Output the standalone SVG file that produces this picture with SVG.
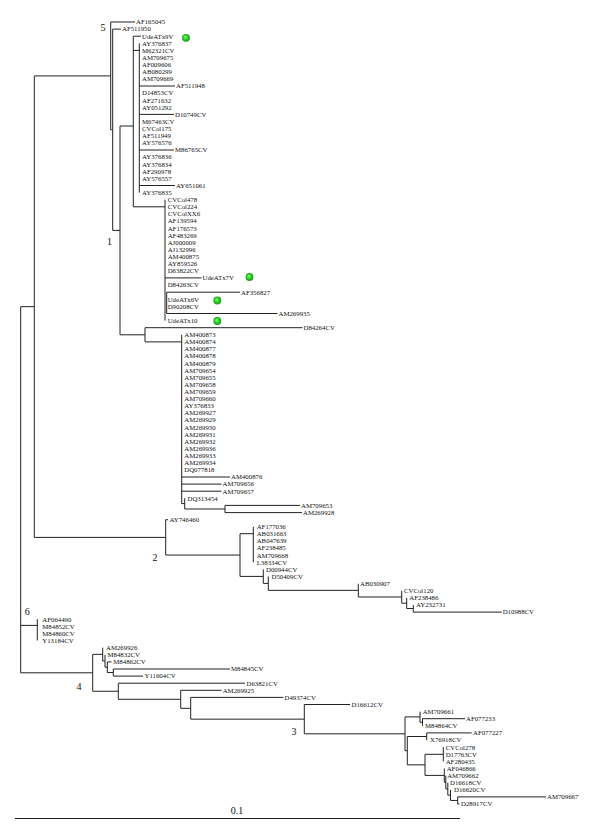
<svg xmlns="http://www.w3.org/2000/svg" width="600" height="839" viewBox="0 0 600 839">
<style>
.t{font-family:"Liberation Serif","Times New Roman",serif;font-size:6.8px;fill:#111}
.c{font-family:"Liberation Serif","Times New Roman",serif;font-size:10px;fill:#111;text-anchor:middle}
.ln{fill:none;stroke:#222;stroke-width:1}
.dot{fill:url(#gd)}
</style>
<defs>
<radialGradient id="gd" cx="0.5" cy="0.5" r="0.5" fx="0.38" fy="0.35">
<stop offset="0" stop-color="#a8ff8a"/>
<stop offset="0.45" stop-color="#33dd2e"/>
<stop offset="1" stop-color="#149a14"/>
</radialGradient>
</defs>
<rect width="600" height="839" fill="#fff"/>
<g id="connectors" class="ln">
<path d="M20.7,306.65V672.8M20.7,306.65H34.3M20.7,625.4H37.3M20.7,672.8H92.7"/>
<path d="M34.3,75.9V537.4M34.3,75.9H110.7M34.3,537.4H165.7"/>
<path d="M110.7,22V129.75M110.7,22H135M110.7,129.75H112.7"/>
<path d="M112.7,29.1V230.4M112.7,29.1H121M112.7,230.4H120"/>
<path d="M120,126V334.8M120,126H133.3M120,334.8H145"/>
<path d="M133.3,36.2V206.8M133.3,36.2H141M133.3,50.4H139.3M133.3,206.8H165"/>
<path d="M139.3,43.3V192.6M139.3,86H175M139.3,114.4H174M139.3,150H174M139.3,185.5H175"/>
<path d="M165,199.7V320.6M165,277.9H201.5M166.7,292.2V313.5M166.7,292.2H240M166.7,313.5H277.5"/>
<path d="M145,327.7V341.9M145,327.7H302.5M145,341.9H181.7"/>
<path d="M181.7,334.8V503.6M181.7,477H230M181.7,484.1H221.5M181.7,491.2H221.5M181.7,503.6H184.7"/>
<path d="M184.7,498.3V509M184.7,509H225"/>
<path d="M225,505.4V512.6M225,505.4H300M225,512.6H302"/>
<path d="M165.7,519.7V555.05M165.7,519.7H168M165.7,555.05H240"/>
<path d="M240,533.7V576.4M240,533.7H253.3M240,576.4H263.3"/>
<path d="M253.3,526.8V562.3"/>
<path d="M263.3,569.4V583.4M263.3,583.4H268.3"/>
<path d="M268.3,576.5V590.35M268.3,590.35H358.3"/>
<path d="M358.3,583.7V597M358.3,597H401.7"/>
<path d="M401.7,590.8V603.2M401.7,603.2H406.7"/>
<path d="M406.7,597.9V608.55M406.7,608.55H413.3"/>
<path d="M413.3,605V612.1M413.3,612.1H501.7"/>
<path d="M37.3,619.2V640.5"/>
<path d="M92.7,654.35V691.25M92.7,654.35H102.7M92.7,691.25H118.3"/>
<path d="M102.7,647.7V661M102.7,661H105"/>
<path d="M105,654.8V667.2M105,667.2H107.3"/>
<path d="M107.3,661.9V672.55M107.3,661.9H111.5M107.3,672.55H113.3"/>
<path d="M113.3,669V676.1M113.3,669H230M113.3,676.1H143"/>
<path d="M118.3,683.2V699.3M118.3,683.2H245M118.3,699.3H180.7"/>
<path d="M180.7,690.3V708.3M180.7,690.3H221.7M180.7,708.3H190.7"/>
<path d="M190.7,697.4V719.15M190.7,697.4H283.3M190.7,719.15H304.3"/>
<path d="M304.3,704.5V733.8M304.3,704.5H350M304.3,733.8H405"/>
<path d="M405,716.9V750.7M405,716.9H420M405,750.7H407.3"/>
<path d="M420,711.6V722.25M420,722.25H422.5"/>
<path d="M422.5,718.7V725.8M422.5,718.7H465"/>
<path d="M407.3,736.5V764.85M407.3,736.5H426.7M407.3,764.85H425"/>
<path d="M426.7,732.9V740.1M426.7,732.9H471.7"/>
<path d="M425,754.3V775.4M425,754.3H443.3M425,775.4H444.3"/>
<path d="M443.3,747.2V761.4"/>
<path d="M444.3,768.5V782.25M444.3,782.25H445.8"/>
<path d="M445.8,775.6V788.9M445.8,788.9H447.8"/>
<path d="M447.8,782.7V795.1M447.8,795.1H450.5"/>
<path d="M450.5,789.8V800.45M450.5,800.45H457.7"/>
<path d="M457.7,796.9V804M457.7,796.9H546M457.7,804H459.5"/>
<path id="scalebar" d="M15,818.5H460"/>
</g>
<g id="clade-labels">
<text class="c" x="103" y="31">5</text>
<text class="c" x="109.5" y="244.5">1</text>
<text class="c" x="155" y="561">2</text>
<text class="c" x="294" y="734.5">3</text>
<text class="c" x="79" y="690">4</text>
<text class="c" x="27.3" y="615">6</text>
<text class="c" x="237" y="813.5">0.1</text>
</g>
<g id="taxa">
<g id="n1"><text class="t" x="136" y="24.3">AF165045</text></g>
<g id="n2"><text class="t" x="122" y="31.4">AF511950</text></g>
<g id="n3"><text class="t" x="142" y="38.5">UdeATx9V</text><circle class="dot" cx="186" cy="37.8" r="3.9"/></g>
<g id="n4"><text class="t" x="142" y="45.6">AY376837</text></g>
<g id="n5"><text class="t" x="142" y="52.7">M62321CV</text></g>
<g id="n6"><text class="t" x="142" y="59.8">AM709675</text></g>
<g id="n7"><text class="t" x="142" y="67">AF009606</text></g>
<g id="n8"><text class="t" x="142" y="74.1">AB080299</text></g>
<g id="n9"><text class="t" x="142" y="81.2">AM709669</text></g>
<g id="n10"><text class="t" x="176" y="88.3">AF511948</text></g>
<g id="n11"><text class="t" x="142" y="95.4">D14853CV</text></g>
<g id="n12"><text class="t" x="142" y="102.5">AF271632</text></g>
<g id="n13"><text class="t" x="142" y="109.6">AY051292</text></g>
<g id="n14"><text class="t" x="175" y="116.7">D10749CV</text></g>
<g id="n15"><text class="t" x="142" y="123.8">M67463CV</text></g>
<g id="n16"><text class="t" x="142" y="130.9">CVCol175</text></g>
<g id="n17"><text class="t" x="142" y="138">AF511949</text></g>
<g id="n18"><text class="t" x="142" y="145.2">AY576576</text></g>
<g id="n19"><text class="t" x="175" y="152.3">M86765CV</text></g>
<g id="n20"><text class="t" x="142" y="159.4">AY376836</text></g>
<g id="n21"><text class="t" x="142" y="166.5">AY376834</text></g>
<g id="n22"><text class="t" x="142" y="173.6">AF290978</text></g>
<g id="n23"><text class="t" x="142" y="180.7">AY576557</text></g>
<g id="n24"><text class="t" x="176" y="187.8">AY651061</text></g>
<g id="n25"><text class="t" x="142" y="194.9">AY376835</text></g>
<g id="n26"><text class="t" x="167.7" y="202">CVCol478</text></g>
<g id="n27"><text class="t" x="167.7" y="209.1">CVCol224</text></g>
<g id="n28"><text class="t" x="167.7" y="216.2">CVColXX6</text></g>
<g id="n29"><text class="t" x="167.7" y="223.4">AF139594</text></g>
<g id="n30"><text class="t" x="167.7" y="230.5">AF176573</text></g>
<g id="n31"><text class="t" x="167.7" y="237.6">AF483269</text></g>
<g id="n32"><text class="t" x="167.7" y="244.7">AJ000009</text></g>
<g id="n33"><text class="t" x="167.7" y="251.8">AJ132996</text></g>
<g id="n34"><text class="t" x="167.7" y="258.9">AM400875</text></g>
<g id="n35"><text class="t" x="167.7" y="266">AY859526</text></g>
<g id="n36"><text class="t" x="167.7" y="273.1">D63822CV</text></g>
<g id="n37"><text class="t" x="202.5" y="280.2">UdeATx7V</text><circle class="dot" cx="249.5" cy="277" r="3.9"/></g>
<g id="n38"><text class="t" x="167.7" y="287.3">D84263CV</text></g>
<g id="n39"><text class="t" x="241" y="294.5">AF356827</text></g>
<g id="n40"><text class="t" x="167.7" y="301.6">UdeATx6V</text><circle class="dot" cx="217.3" cy="300.5" r="3.9"/></g>
<g id="n41"><text class="t" x="167.7" y="308.7">D90208CV</text></g>
<g id="n42"><text class="t" x="278.5" y="315.8">AM269935</text></g>
<g id="n43"><text class="t" x="167.7" y="322.9">UdeATx10</text><circle class="dot" cx="217.3" cy="321" r="3.9"/></g>
<g id="n44"><text class="t" x="303.5" y="330">D84264CV</text></g>
<g id="n45"><text class="t" x="184.3" y="337.1">AM400873</text></g>
<g id="n46"><text class="t" x="184.3" y="344.2">AM400874</text></g>
<g id="n47"><text class="t" x="184.3" y="351.3">AM400877</text></g>
<g id="n48"><text class="t" x="184.3" y="358.4">AM400878</text></g>
<g id="n49"><text class="t" x="184.3" y="365.5">AM400879</text></g>
<g id="n50"><text class="t" x="184.3" y="372.7">AM709654</text></g>
<g id="n51"><text class="t" x="184.3" y="379.8">AM709655</text></g>
<g id="n52"><text class="t" x="184.3" y="386.9">AM709658</text></g>
<g id="n53"><text class="t" x="184.3" y="394">AM709659</text></g>
<g id="n54"><text class="t" x="184.3" y="401.1">AM709660</text></g>
<g id="n55"><text class="t" x="184.3" y="408.2">AY376833</text></g>
<g id="n56"><text class="t" x="184.3" y="415.3">AM269927</text></g>
<g id="n57"><text class="t" x="184.3" y="422.4">AM269929</text></g>
<g id="n58"><text class="t" x="184.3" y="429.5">AM269930</text></g>
<g id="n59"><text class="t" x="184.3" y="436.6">AM269931</text></g>
<g id="n60"><text class="t" x="184.3" y="443.8">AM269932</text></g>
<g id="n61"><text class="t" x="184.3" y="450.9">AM269936</text></g>
<g id="n62"><text class="t" x="184.3" y="458">AM269933</text></g>
<g id="n63"><text class="t" x="184.3" y="465.1">AM269934</text></g>
<g id="n64"><text class="t" x="184.3" y="472.2">DQ077818</text></g>
<g id="n65"><text class="t" x="231" y="479.3">AM400876</text></g>
<g id="n66"><text class="t" x="222.5" y="486.4">AM709656</text></g>
<g id="n67"><text class="t" x="222.5" y="493.5">AM709657</text></g>
<g id="n68"><text class="t" x="187.5" y="500.6">DQ313454</text></g>
<g id="n69"><text class="t" x="301" y="507.7">AM709653</text></g>
<g id="n70"><text class="t" x="303" y="514.9">AM269928</text></g>
<g id="n71"><text class="t" x="169.5" y="522">AY746460</text></g>
<g id="n72"><text class="t" x="256.7" y="529.1">AF177036</text></g>
<g id="n73"><text class="t" x="256.7" y="536.2">AB031663</text></g>
<g id="n74"><text class="t" x="256.7" y="543.3">AB047639</text></g>
<g id="n75"><text class="t" x="256.7" y="550.4">AF238485</text></g>
<g id="n76"><text class="t" x="256.7" y="557.5">AM709668</text></g>
<g id="n77"><text class="t" x="256.7" y="564.6">L38334CV</text></g>
<g id="n78"><text class="t" x="266" y="571.7">D00944CV</text></g>
<g id="n79"><text class="t" x="271.5" y="578.8">D50409CV</text></g>
<g id="n80"><text class="t" x="360" y="586">AB030907</text></g>
<g id="n81"><text class="t" x="404" y="593.1">CVCol120</text></g>
<g id="n82"><text class="t" x="409.3" y="600.2">AF238486</text></g>
<g id="n83"><text class="t" x="416" y="607.3">AY232731</text></g>
<g id="n84"><text class="t" x="502.7" y="614.4">D10988CV</text></g>
<g id="n85"><text class="t" x="42.3" y="621.5">AF064490</text></g>
<g id="n86"><text class="t" x="42.3" y="628.6">M84852CV</text></g>
<g id="n87"><text class="t" x="42.3" y="635.7">M84860CV</text></g>
<g id="n88"><text class="t" x="42.3" y="642.8">Y13184CV</text></g>
<g id="n89"><text class="t" x="106" y="650">AM269926</text></g>
<g id="n90"><text class="t" x="107.5" y="657.1">M84832CV</text></g>
<g id="n91"><text class="t" x="113.3" y="664.2">M84862CV</text></g>
<g id="n92"><text class="t" x="231" y="671.3">M84845CV</text></g>
<g id="n93"><text class="t" x="144.5" y="678.4">Y11604CV</text></g>
<g id="n94"><text class="t" x="246.5" y="685.5">D63821CV</text></g>
<g id="n95"><text class="t" x="222.7" y="692.6">AM269925</text></g>
<g id="n96"><text class="t" x="284.5" y="699.7">D49374CV</text></g>
<g id="n97"><text class="t" x="351.5" y="706.8">D16612CV</text></g>
<g id="n98"><text class="t" x="422.7" y="713.9">AM709661</text></g>
<g id="n99"><text class="t" x="466" y="721">AF077233</text></g>
<g id="n100"><text class="t" x="425" y="728.1">M84864CV</text></g>
<g id="n101"><text class="t" x="473" y="735.2">AF077227</text></g>
<g id="n102"><text class="t" x="430" y="742.4">X76918CV</text></g>
<g id="n103"><text class="t" x="445.7" y="749.5">CVCol278</text></g>
<g id="n104"><text class="t" x="445.7" y="756.6">D17763CV</text></g>
<g id="n105"><text class="t" x="445.7" y="763.7">AF280435</text></g>
<g id="n106"><text class="t" x="446.7" y="770.8">AF046866</text></g>
<g id="n107"><text class="t" x="447.2" y="777.9">AM709662</text></g>
<g id="n108"><text class="t" x="450" y="785">D16618CV</text></g>
<g id="n109"><text class="t" x="454" y="792.1">D16620CV</text></g>
<g id="n110"><text class="t" x="547" y="799.2">AM709667</text></g>
<g id="n111"><text class="t" x="461" y="806.3">D28917CV</text></g>
</g>
</svg>
